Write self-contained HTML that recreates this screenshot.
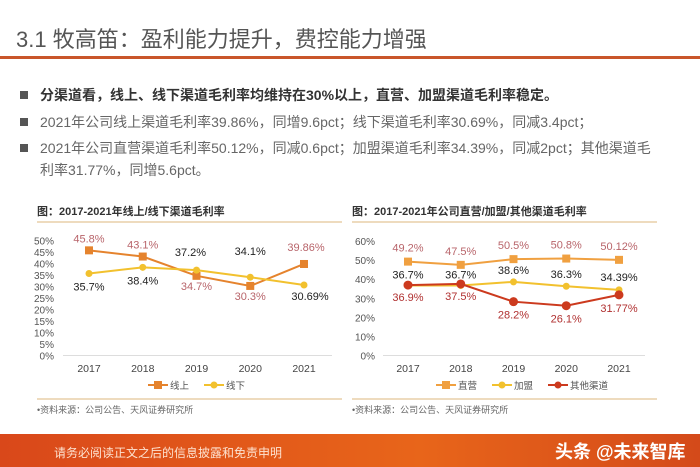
<!DOCTYPE html>
<html><head><meta charset="utf-8"><style>
body{margin:0;width:700px;height:467px;overflow:hidden;background:#fff;font-family:"Liberation Sans","Noto Sans CJK SC",sans-serif;position:relative}
.abs{position:absolute;white-space:nowrap}
.bul{position:absolute;left:20px;font-size:14px;line-height:22px;color:#666}
.bul:before{content:"";position:absolute;left:0;top:7px;width:8px;height:8px;background:#555}
.bul span{margin-left:20px;display:inline-block}
</style></head><body>
<div class="abs" style="left:16px;top:22px;font-size:22px;color:#555">3.1 牧高笛：盈利能力提升，费控能力增强</div>
<div class="abs" style="left:0;top:56px;width:700px;height:3px;background:#c9562a"></div>
<div class="bul" style="top:84px;color:#333;font-weight:bold"><span>分渠道看，线上、线下渠道毛利率均维持在30%以上，直营、加盟渠道毛利率稳定。</span></div>
<div class="bul" style="top:111px"><span>2021年公司线上渠道毛利率39.86%，同增9.6pct；线下渠道毛利率30.69%，同减3.4pct；</span></div>
<div class="bul" style="top:137px"><span>2021年公司直营渠道毛利率50.12%，同减0.6pct；加盟渠道毛利率34.39%，同减2pct；其他渠道毛<br>利率31.77%，同增5.6pct。</span></div>
<svg width="700" height="467" style="position:absolute;left:0;top:0" id="svg" font-family="Liberation Sans, Noto Sans CJK SC, sans-serif"></svg>
<div class="abs" style="left:0;top:434px;width:700px;height:33px;background:linear-gradient(90deg,#d9481a,#e8651a 60%,#d44a1a)"></div>
<div class="abs" style="left:54px;top:444px;font-size:12px;color:#fde2d0">请务必阅读正文之后的信息披露和免责申明</div>
<div class="abs" style="left:555px;top:438px;font-size:18px;color:#fff;font-weight:bold">头条 @未来智库</div>
<script>
const years=["2017","2018","2019","2020","2021"];
const online=[45.8,43.1,34.7,30.3,39.86];
const offline=[35.7,38.4,37.2,34.1,30.69];
const onlineLbl=["45.8%","43.1%","34.7%","30.3%","39.86%"];
const offlineLbl=["35.7%","38.4%","37.2%","34.1%","30.69%"];
const direct=[49.2,47.5,50.5,50.8,50.12];
const franchise=[36.7,36.7,38.6,36.3,34.39];
const other=[36.9,37.5,28.2,26.1,31.77];
const directLbl=["49.2%","47.5%","50.5%","50.8%","50.12%"];
const franchiseLbl=["36.7%","36.7%","38.6%","36.3%","34.39%"];
const otherLbl=["36.9%","37.5%","28.2%","26.1%","31.77%"];
const leftTicks=[0,5,10,15,20,25,30,35,40,45,50];
const rightTicks=[0,10,20,30,40,50,60];
const svg=document.getElementById('svg');const NS="http://www.w3.org/2000/svg";
function el(t,a,txt){const e=document.createElementNS(NS,t);for(const k in a)e.setAttribute(k,a[k]);if(txt!=null)e.textContent=txt;svg.appendChild(e);return e;}
function chart(o){
  const y=v=>o.y0-(v/o.max)*(o.y0-o.y1);const x=i=>o.x0+i*o.step;
  let t=el('text',{x:o.tx,y:215,'font-size':11,'font-weight':'bold',fill:'#333'},o.title);
  
  el('line',{x1:o.tx,x2:o.tx+o.rw,y1:222,y2:222,stroke:'#e8cfa8','stroke-width':1.5});
  el('line',{x1:o.tx,x2:o.tx+o.rw,y1:399,y2:399,stroke:'#e8cfa8','stroke-width':1.5});
  t=el('text',{x:o.tx,y:413,'font-size':9,fill:'#666'},'•资料来源：公司公告、天风证券研究所');
  
  el('line',{x1:o.gx0,x2:o.gx1,y1:o.y0,y2:o.y0,stroke:'#ddd'});
  o.ticks.forEach(v=>{const e=el('text',{x:o.lx,y:y(v)+4,'font-size':10,fill:'#555','text-anchor':'end'},v+'%');
    });
  years.forEach((yr,i)=>{const e=el('text',{x:x(i),y:372,'font-size':10.5,fill:'#444','text-anchor':'middle'},yr);
    });
  o.series.forEach(s=>{
    const p=el('polyline',{points:s.data.map((v,i)=>x(i)+','+y(v)).join(' '),fill:'none',stroke:s.color,'stroke-width':2});
    
    s.data.forEach((v,i)=>{let m;
      if(s.mk=='sq')m=el('rect',{x:x(i)-4,y:y(v)-4,width:8,height:8,fill:s.color});
      else m=el('circle',{cx:x(i),cy:y(v),r:s.mk=='big'?4.5:3.5,fill:s.color});
      
      const off=s.off[i];
      const l=el('text',{x:x(i)+(off[0]||0),y:y(v)+off[1],'font-size':11,fill:s.lc,'text-anchor':'middle'},s.lbl[i]);
      });
  });
  let lx=o.legx;
  o.series.forEach(s=>{
    el('line',{x1:lx,x2:lx+20,y1:385,y2:385,stroke:s.color,'stroke-width':2});
    if(s.mk=='sq')el('rect',{x:lx+6,y:381,width:8,height:8,fill:s.color});else el('circle',{cx:lx+10,cy:385,r:3.5,fill:s.color});
    const e=el('text',{x:lx+22,y:389,'font-size':9.5,fill:'#555'},s.title);
    
    lx+=22+s.title.length*10+14;});
}
chart({id:'left-chart',title:'图：2017-2021年线上/线下渠道毛利率',tx:37,rw:305,x0:89,step:53.75,y0:355.5,y1:240.7,max:50,lx:54,gx0:63,gx1:332,ticks:leftTicks,legx:148,
 series:[{name:'online',title:'线上',data:online,lbl:onlineLbl,color:'#e5832d',mk:'sq',lc:'#b8646a',off:[[0,-8],[0,-8],[0,14],[0,14],[2,-13]]},
 {name:'offline',title:'线下',data:offline,lbl:offlineLbl,color:'#f2c12e',mk:'c',lc:'#222',off:[[0,17],[0,17],[-6,-14],[0,-22],[6,15]]}]});
chart({id:'right-chart',title:'图：2017-2021年公司直营/加盟/其他渠道毛利率',tx:352,rw:305,x0:408,step:52.75,y0:355.5,y1:241,max:60,lx:375,gx0:383,gx1:645,ticks:rightTicks,legx:436,
 series:[{name:'direct',title:'直营',data:direct,lbl:directLbl,color:'#f0a040',mk:'sq',lc:'#b8646a',off:[[0,-10],[0,-10],[0,-10],[0,-10],[0,-10]]},
 {name:'franchise',title:'加盟',data:franchise,lbl:franchiseLbl,color:'#f2c12e',mk:'c',lc:'#222',off:[[0,-7],[0,-7],[0,-8],[0,-8],[0,-9]]},
 {name:'other',title:'其他渠道',data:other,lbl:otherLbl,color:'#cc3a1e',mk:'big',lc:'#b03030',off:[[0,16],[0,16],[0,17],[0,17],[0,17]]}]});
</script>
</body></html>
